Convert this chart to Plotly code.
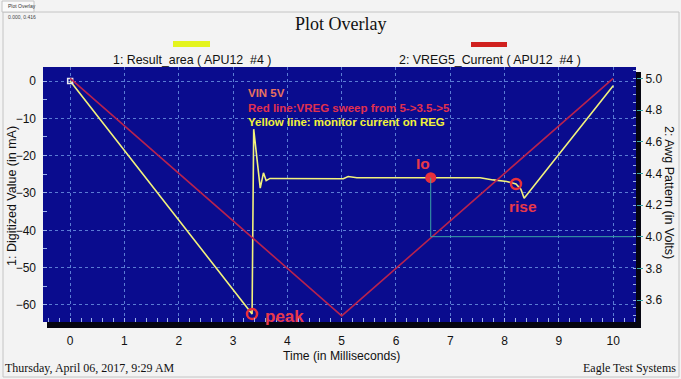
import plotly.graph_objects as go

# ---------------- data ----------------
vreg_time = [0, 5, 10]
vreg_volts = [5.0, 3.5, 5.0]

res_time = [0.0, 3.35, 3.38, 3.50, 3.56, 3.61, 3.68, 4.3, 5.03, 5.12, 5.28, 6.0,
            6.64, 7.55, 7.79, 8.04, 8.21, 8.30, 8.36, 10.0]
res_ma = [0.0, -62.4, -12.9, -28.7, -24.6, -26.7, -26.1, -26.2, -26.2, -25.6, -25.9, -25.9,
          -25.9, -25.9, -26.5, -26.9, -27.6, -29.0, -31.4, -1.3]

peak_time, peak_ma = 3.35, -62.4
io_time, io_ma = 6.64, -25.9
rise_time, rise_ma = 8.21, -27.6
io_level_volts = 4.0

x_ticks = list(range(0, 11))
y_ticks = [-60, -50, -40, -30, -20, -10, 0]
y2_ticks = [3.6, 3.8, 4.0, 4.2, 4.4, 4.6, 4.8, 5.0]
y2_ticklabels = [f"{v:.1f}" for v in y2_ticks]

# ---------------- layout constants ----------------
W, H = 681, 379
PL, PR, PT, PB = 43, 636, 67, 322
X_RANGE = [-0.50, 10.42]
Y_RANGE = [-64.56, 3.75]
Y2_RANGE = [3.461, 5.072]

BLUE = "#0a0c8e"
GRID = "rgba(105,145,225,0.85)"
TEAL = "#3aa6a6"
RED_TXT = "#e8394a"
SANS = "Liberation Sans, Arial, sans-serif"
SERIF = "Liberation Serif, Times New Roman, serif"


def px(x):
    return (x - PL) / (PR - PL)


def py(y):
    return (PB - y) / (PB - PT)


def ma_to_volts(v):
    return Y2_RANGE[0] + (v - Y_RANGE[0]) * (Y2_RANGE[1] - Y2_RANGE[0]) / (Y_RANGE[1] - Y_RANGE[0])


fig = go.Figure()

fig.add_trace(go.Scatter(x=vreg_time, y=vreg_volts, yaxis="y2", mode="lines",
                         line=dict(color="#b8224e", width=1.6), hoverinfo="skip"))
fig.add_trace(go.Scatter(x=[io_time, io_time, X_RANGE[1]],
                         y=[ma_to_volts(io_ma), io_level_volts, io_level_volts],
                         yaxis="y2", mode="lines", line=dict(color=TEAL, width=1)))
fig.add_trace(go.Scatter(x=res_time, y=res_ma, mode="lines",
                         line=dict(color="#f2f27c", width=1.6)))
fig.add_trace(go.Scatter(x=[res_time[0]], y=[res_ma[0]], mode="markers",
                         marker=dict(symbol="square-open", size=5, color="#e8e8f0",
                                     line=dict(width=1.5))))
fig.add_trace(go.Scatter(x=[peak_time, rise_time], y=[peak_ma, rise_ma], mode="markers",
                         marker=dict(symbol="circle-open", size=10, color="#e8303c",
                                     line=dict(width=2.5))))
fig.add_trace(go.Scatter(x=[io_time], y=[io_ma], mode="markers",
                         marker=dict(symbol="circle", size=11, color="#e8303c")))

shapes = [
    # window frame
    dict(type="rect", xref="paper", yref="paper", x0=px(3), x1=px(679), y0=py(377), y1=py(12),
         line=dict(color="#c4c4c4", width=1), fillcolor="rgba(0,0,0,0)", layer="below"),
    dict(type="rect", xref="paper", yref="paper", x0=px(2), x1=px(34), y0=py(12), y1=py(1),
         line=dict(color="#c4c4c4", width=1), fillcolor="#fafafa", layer="below"),
    # shadow + plot panel
    dict(type="rect", xref="paper", yref="paper", x0=px(47), x1=px(641), y0=py(328), y1=py(72),
         line=dict(width=0), fillcolor="#050510", layer="below"),
    dict(type="rect", xref="paper", yref="paper", x0=0, x1=1, y0=0, y1=1,
         line=dict(width=0), fillcolor=BLUE, layer="below"),
    # legend swatches
    dict(type="rect", xref="paper", yref="paper", x0=px(173), x1=px(210), y0=py(47), y1=py(41),
         line=dict(width=0), fillcolor="#e4f41e"),
    dict(type="rect", xref="paper", yref="paper", x0=px(471), x1=px(507), y0=py(47), y1=py(42),
         line=dict(width=0), fillcolor="#d0201e"),
]

ann = [
    dict(text="Plot Overlay", x=px(341), y=py(24), font=dict(family=SERIF, size=18, color="#111")),
    dict(text="1: Result_area ( APU12\u00a0 #4 )", x=px(192), y=py(60),
         font=dict(family=SANS, size=12.4, color="#111")),
    dict(text="2: VREG5_Current ( APU12\u00a0 #4 )", x=px(490), y=py(60),
         font=dict(family=SANS, size=12.4, color="#111")),
    dict(text="Time (in Milliseconds)", x=px(341), y=py(356), font=dict(family=SANS, size=12.2, color="#111")),
    dict(text="1: Digitized Value (in mA)", x=px(12), y=py(196), textangle=-90,
         font=dict(family=SANS, size=12.5, color="#111")),
    dict(text="2: Awg Pattern (in Volts)", x=px(669), y=py(192), textangle=90,
         font=dict(family=SANS, size=12.5, color="#111")),
    dict(text="Thursday, April 06, 2017, 9:29 AM", x=px(3), y=py(368), xanchor="left",
         font=dict(family=SERIF, size=12, color="#111")),
    dict(text="Eagle Test Systems", x=px(678), y=py(368), xanchor="right",
         font=dict(family=SERIF, size=12, color="#111")),
    dict(text="Plot Overlay", x=px(6), y=py(6.5), xanchor="left", font=dict(family=SANS, size=5, color="#333")),
    dict(text="0.000, 0.416", x=px(6), y=py(17), xanchor="left", font=dict(family=SANS, size=5, color="#444")),
]
for a in ann:
    a.setdefault("xref", "paper")
    a.setdefault("yref", "paper")
    a.setdefault("xanchor", "center")
    a.setdefault("yanchor", "middle")
    a["showarrow"] = False

notes = [
    ("VIN 5V", 3.23, -3.2, "#e8735f"),
    ("Red line:VREG sweep from 5->3.5->5", 3.23, -7.2, "#e0304e"),
    ("Yellow line: monitor current on REG", 3.23, -11.0, "#f2f23a"),
]
for t, x, y, c in notes:
    ann.append(dict(text=f"<b>{t}</b>", x=x, y=y, xref="x", yref="y", xanchor="left", yanchor="middle",
                    showarrow=False, font=dict(family=SANS, size=11.5, color=c)))
for t, x, y, xa, size in [("peak", 3.55, -63.0, "left", 17), ("Io", 6.49, -22.2, "center", 15.5),
                          ("rise", 8.345, -33.7, "center", 15.5)]:
    ann.append(dict(text=f"<b>{t}</b>", x=x, y=y, xref="x", yref="y", xanchor=xa, yanchor="middle",
                    showarrow=False, font=dict(family=SANS, size=size, color=RED_TXT)))

fig.update_layout(
    width=W, height=H, autosize=False,
    margin=dict(l=PL, r=W - PR, t=PT, b=H - PB, pad=0),
    paper_bgcolor="#f3f3f3", plot_bgcolor=BLUE,
    showlegend=False, hovermode=False,
    shapes=shapes, annotations=ann,
    xaxis=dict(range=X_RANGE, tickvals=x_ticks, ticks="", showgrid=True, gridcolor=GRID,
               griddash="dot", gridwidth=1, zeroline=False, showline=False,
               tickfont=dict(family=SANS, size=12, color="#111"), ticklabelstandoff=10,
               minor=dict(dtick=0.2, tick0=0, ticks="inside", ticklen=4, tickcolor="#9cb2ea",
                          showgrid=False)),
    yaxis=dict(range=Y_RANGE, tickvals=y_ticks, ticks="", showgrid=True, gridcolor=GRID,
               griddash="dot", gridwidth=1, zeroline=False, showline=False,
               tickfont=dict(family=SANS, size=12, color="#111"), ticklabelstandoff=6,
               minor=dict(dtick=5, tick0=0, ticks="inside", ticklen=4, tickcolor="#9cb2ea",
                          showgrid=False)),
    yaxis2=dict(range=Y2_RANGE, overlaying="y", side="right", tickvals=y2_ticks,
                ticktext=y2_ticklabels, ticks="outside", ticklen=6, tickcolor=TEAL,
                showgrid=False, zeroline=False, showline=False,
                tickfont=dict(family=SANS, size=12, color="#111"),
                minor=dict(dtick=0.05, tick0=3.5, ticks="inside", ticklen=3, tickcolor="#9cb2ea",
                           showgrid=False)),
)

fig.write_html("out.html", config={"displayModeBar": False},
               post_script="document.body.style.margin='0';document.body.style.overflow='hidden';")
